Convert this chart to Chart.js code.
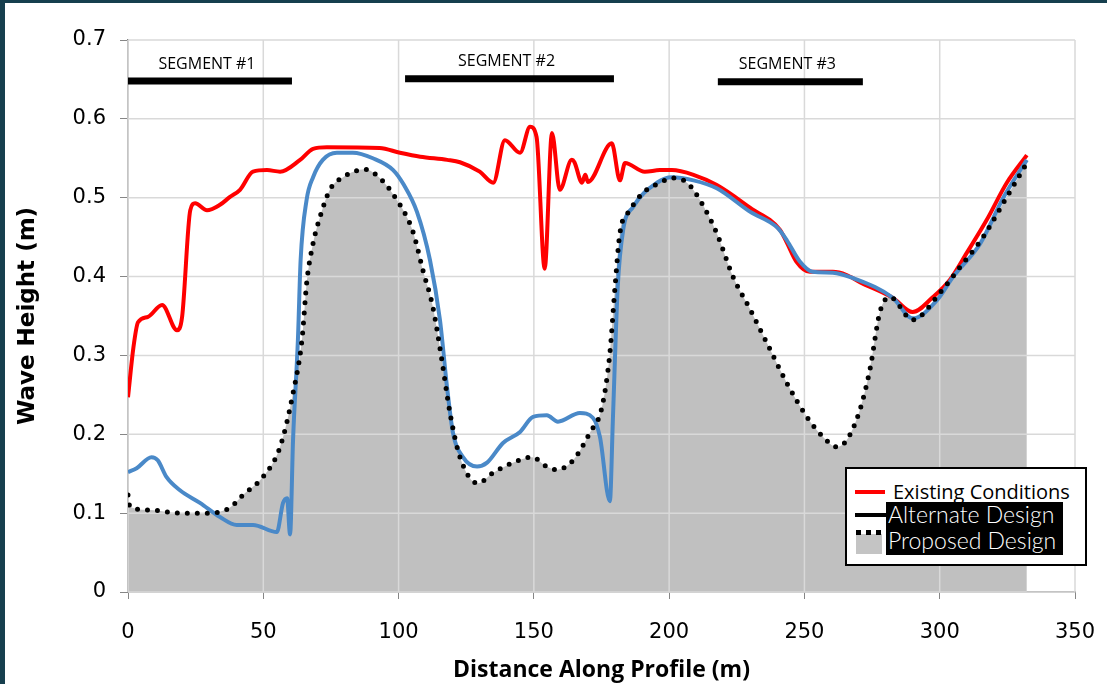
<!DOCTYPE html>
<html>
<head>
<meta charset="utf-8">
<script src="https://cdn.jsdelivr.net/npm/chart.js@4.4.1/dist/chart.umd.min.js"></script>
<style>
  body { margin: 0; background: #163f4e; width: 1107px; height: 684px; overflow: hidden; }
  #wrap { position: absolute; left: 5px; top: 3px; width: 1102px; height: 681px; background: #fff; }
  #legend { position: absolute; left: 845px; top: 467px; width: 238px; height: 95px;
    border: 2px solid #000; background: #fff; overflow: hidden; }
  .smp { position: absolute; }
  .txt { position: absolute; white-space: nowrap; }
</style>
</head>
<body>
<div id="wrap"><canvas id="waves"></canvas></div>
<div id="legend">
  <div class="smp" style="left:8px;top:21px;width:30px;height:4px;background:#ff0000"></div>
  <div class="txt" style="left:46px;top:9px;font:20px 'Open Sans';color:#000">Existing Conditions</div>
  <div class="smp" style="left:8px;top:44px;width:32px;height:4px;background:#000"></div>
  <div class="txt" style="left:39px;top:33px;width:177px;height:53px;background:#000"></div>
  <div class="txt" style="left:41px;top:31px;font:300 23px Lato;color:#fff">Alternate Design</div>
  <div class="txt" style="left:41px;top:57px;font:300 23px Lato;color:#fff">Proposed Design</div>
  <div class="smp" style="left:9px;top:65px;width:26px;height:20px;background:#c4c4c4"></div>
  <div class="smp" style="left:9px;top:61px;width:5px;height:5px;background:#000"></div>
  <div class="smp" style="left:19px;top:61px;width:5px;height:5px;background:#000"></div>
  <div class="smp" style="left:29px;top:61px;width:5px;height:5px;background:#000"></div>
</div>
<script>
// wave height along the profile
var existingX = [0, 2, 3.7, 7.4, 12.6, 18.1, 20, 23, 24.8, 29.2, 34, 37.7, 41.4, 46.2, 51.4, 56.2, 63.6, 68.4, 73.5, 93, 100.5, 108, 118, 122.7, 130, 135, 139.3, 144.9, 148.6, 151, 154, 156.7, 159.6, 164, 165, 167.8, 169, 170, 178.8, 181.8, 183.7, 191, 196.6, 201, 209, 217.6, 230, 241, 243.5, 247, 252, 260.5, 265.6, 270.5, 282.7, 290, 297.5, 303.8, 310, 317.4, 324.8, 332.2];
var existingY = [0.247, 0.31, 0.342, 0.349, 0.364, 0.332, 0.349, 0.484, 0.493, 0.484, 0.491, 0.501, 0.51, 0.533, 0.535, 0.533, 0.548, 0.562, 0.564, 0.563, 0.557, 0.552, 0.548, 0.545, 0.533, 0.519, 0.573, 0.557, 0.59, 0.577, 0.41, 0.582, 0.51, 0.548, 0.545, 0.519, 0.529, 0.52, 0.569, 0.522, 0.544, 0.533, 0.535, 0.535, 0.529, 0.516, 0.487, 0.459, 0.443, 0.419, 0.406, 0.406, 0.402, 0.393, 0.373, 0.355, 0.374, 0.396, 0.43, 0.472, 0.519, 0.554];

var alternateX = [0, 3.2, 8.7, 11, 14.2, 19.2, 26.6, 34, 40.2, 46.2, 55, 57.3, 58.8, 59.9, 61, 62.8, 63.8, 66, 68.4, 72, 77.2, 83.1, 90.5, 98, 102, 106.8, 111.6, 115.3, 117.9, 120.1, 123.8, 129, 132.7, 138.6, 144.9, 149.7, 154.8, 158.9, 167, 171.8, 174.4, 178.1, 179.2, 181, 183, 186.6, 195.5, 201, 209, 217.6, 230, 240, 243.5, 248.3, 253, 260.5, 268, 282.7, 290, 299, 305, 315, 323.5, 332.2];
var alternateY = [0.152, 0.157, 0.171, 0.167, 0.146, 0.129, 0.113, 0.095, 0.085, 0.085, 0.076, 0.113, 0.119, 0.073, 0.193, 0.32, 0.421, 0.497, 0.526, 0.548, 0.557, 0.557, 0.55, 0.535, 0.516, 0.482, 0.421, 0.345, 0.26, 0.202, 0.171, 0.159, 0.164, 0.189, 0.203, 0.222, 0.224, 0.216, 0.227, 0.221, 0.197, 0.115, 0.218, 0.387, 0.459, 0.488, 0.519, 0.526, 0.522, 0.512, 0.482, 0.462, 0.446, 0.419, 0.406, 0.405, 0.398, 0.373, 0.347, 0.37, 0.4, 0.442, 0.5, 0.548];

var proposedX = [0, 0.7, 8.1, 19.2, 30.3, 37.7, 42.5, 49.9, 56.2, 61, 64.3, 66.1, 68.4, 71, 74.6, 79.5, 87.6, 94.2, 99.4, 103, 105.5, 109, 112.7, 116, 119, 122.7, 129.3, 134.9, 142.3, 149.3, 154.8, 158.5, 164.5, 170.7, 175.2, 178.1, 180, 181.8, 185.5, 190.3, 196.6, 201.4, 206.6, 211.4, 217.6, 223.6, 230, 236.1, 243.5, 250.9, 256.8, 261.9, 265.7, 270.5, 274.2, 277.9, 281.6, 290, 300, 307.5, 316, 324.8, 332.2];
var proposedY = [0.123, 0.108, 0.104, 0.1, 0.1, 0.107, 0.123, 0.146, 0.184, 0.252, 0.32, 0.394, 0.442, 0.476, 0.51, 0.526, 0.536, 0.521, 0.497, 0.476, 0.455, 0.408, 0.361, 0.294, 0.227, 0.171, 0.138, 0.151, 0.164, 0.171, 0.159, 0.155, 0.167, 0.202, 0.235, 0.303, 0.387, 0.455, 0.484, 0.506, 0.519, 0.525, 0.519, 0.497, 0.455, 0.4, 0.358, 0.316, 0.265, 0.222, 0.197, 0.184, 0.193, 0.231, 0.282, 0.355, 0.374, 0.345, 0.379, 0.412, 0.45, 0.501, 0.544];

// segment bars drawn across the top of the plot
var segmentNames = ['SEGMENT #1', 'SEGMENT #2', 'SEGMENT #3'];
var segmentStart = [0, 102.4, 218];
var segmentEnd = [60.6, 179.6, 271.6];
var segmentLevel = [0.648, 0.651, 0.647];

function pts(xs, ys) {
  return xs.map(function (x, i) { return {x: x, y: ys[i]}; });
}

var datasets = [{
  label: 'fill',
  data: pts(proposedX, proposedY),
  borderWidth: 0,
  backgroundColor: '#c0c0c0',
  fill: 'origin',
  order: 10
}, {
  label: 'Existing Conditions',
  data: pts(existingX, existingY),
  borderColor: '#ff0000',
  borderWidth: 4,
  order: 3
}, {
  label: 'Alternate Design',
  data: pts(alternateX, alternateY),
  borderColor: '#4a89c8',
  borderWidth: 4,
  order: 2
}, {
  label: 'Proposed Design',
  data: pts(proposedX, proposedY),
  borderColor: '#000',
  borderWidth: 5,
  borderDash: [0, 10],
  borderCapStyle: 'round',
  order: 1
}];

segmentNames.forEach(function (n, i) {
  datasets.push({
    label: n,
    data: [{x: segmentStart[i], y: segmentLevel[i]}, {x: segmentEnd[i], y: segmentLevel[i]}],
    borderColor: '#000',
    borderWidth: 7,
    borderCapStyle: 'butt',
    order: 0
  });
});

// grid lines go on top of the grey area, like the excel original
var gridOverFill = {
  id: 'gridOverFill',
  afterDatasetDraw: function (chart, args) {
    if (args.index !== 0) return;
    var ctx = chart.ctx, a = chart.chartArea, sx = chart.scales.x, sy = chart.scales.y;
    ctx.save();
    ctx.strokeStyle = '#d9d9d9';
    ctx.lineWidth = 1.5;
    sx.ticks.forEach(function (t) {
      var px = sx.getPixelForValue(t.value);
      ctx.beginPath(); ctx.moveTo(px, a.top); ctx.lineTo(px, a.bottom); ctx.stroke();
    });
    sy.ticks.forEach(function (t) {
      var py = sy.getPixelForValue(t.value);
      ctx.beginPath(); ctx.moveTo(a.left, py); ctx.lineTo(a.right, py); ctx.stroke();
    });
    ctx.restore();
  }
};

var segLabels = {
  id: 'segLabels',
  afterDatasetsDraw: function (chart) {
    var ctx = chart.ctx, sx = chart.scales.x, sy = chart.scales.y;
    ctx.save();
    ctx.fillStyle = '#000';
    ctx.font = '16px "Open Sans"';
    ctx.textAlign = 'center';
    ctx.textBaseline = 'bottom';
    segmentNames.forEach(function (n, i) {
      var cx = sx.getPixelForValue((segmentStart[i] + segmentEnd[i]) / 2) - 3;
      ctx.fillText(n, cx, sy.getPixelForValue(segmentLevel[i]) - 9);
    });
    ctx.restore();
  }
};

new Chart(document.getElementById('waves'), {
  type: 'line',
  data: {datasets: datasets},
  plugins: [gridOverFill, segLabels],
  options: {
    responsive: true,
    maintainAspectRatio: false,
    animation: false,
    elements: {
      point: {radius: 0, hoverRadius: 0},
      line: {tension: 0.2, cubicInterpolationMode: 'monotone', fill: false}
    },
    layout: {padding: {left: 0, top: 37, right: 32, bottom: 0}},
    plugins: {
      legend: {display: false},
      tooltip: {enabled: false}
    },
    scales: {
      x: {
        type: 'linear',
        min: 0, max: 350,
        z: 1,
        ticks: {stepSize: 50, color: '#000', font: {family: 'DejaVu Sans', size: 21}, padding: 21},
        grid: {drawOnChartArea: false, tickLength: 7, color: '#868686'},
        border: {color: '#868686', width: 1.5},
        title: {display: true, text: 'Distance Along Profile (m)', color: '#000',
          font: {family: 'Open Sans', size: 23, weight: 'bold'}, padding: {top: 2, bottom: 0}},
        afterFit: function (s) { s.height = 92; s.paddingRight = 0; s.paddingLeft = 0; }
      },
      y: {
        min: 0, max: 0.7,
        z: 1,
        ticks: {stepSize: 0.1, color: '#000', font: {family: 'DejaVu Sans', size: 21}, padding: 14},
        grid: {drawOnChartArea: false, tickLength: 8, color: '#868686'},
        border: {color: '#868686', width: 1.5},
        title: {display: true, text: 'Wave Height (m)', color: '#000',
          font: {family: 'DejaVu Sans', size: 23, weight: 'bold'}, padding: {top: 9, bottom: 0}},
        afterFit: function (s) { s.width = 123; }
      }
    }
  }
});
</script>
</body>
</html>
